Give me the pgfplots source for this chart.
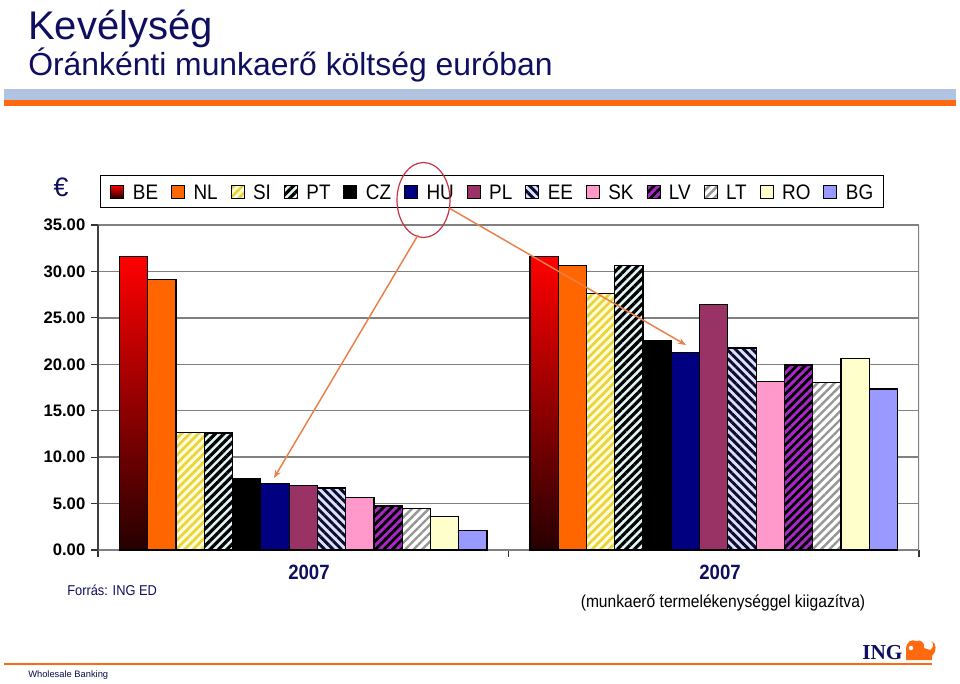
\documentclass[border=0pt]{standalone}
\usepackage{pgfplots}
\pgfplotsset{compat=1.18}
\usepackage{pgfplotstable}
\usepackage{fontspec}
\setmainfont{Liberation Sans}
\newfontfamily\ingserif{Liberation Serif}
\newfontfamily\narrowfont[FakeStretch=0.9]{Liberation Sans}
\usetikzlibrary{patterns.meta, arrows.meta}

\definecolor{navyt}{RGB}{15,15,95}
\definecolor{bandblue}{RGB}{176,196,226}
\definecolor{ingorange}{RGB}{255,106,16}
\definecolor{gridgray}{RGB}{128,128,128}
\definecolor{annot}{RGB}{232,128,72}
\definecolor{ellred}{RGB}{200,50,70}
\definecolor{cNL}{RGB}{255,102,0}
\definecolor{cSIbg}{RGB}{255,255,215}
\definecolor{cSI}{RGB}{235,210,60}
\definecolor{cPTbg}{RGB}{225,245,245}
\definecolor{cHU}{RGB}{0,0,128}
\definecolor{cPL}{RGB}{153,51,102}
\definecolor{cEEbg}{RGB}{220,225,245}
\definecolor{cEE}{RGB}{10,10,50}
\definecolor{cSK}{RGB}{255,153,204}
\definecolor{cLV}{RGB}{170,40,200}
\definecolor{cLT}{RGB}{150,150,150}
\definecolor{cRO}{RGB}{255,255,204}
\definecolor{cBG}{RGB}{153,153,255}

\pgfplotstableread{
x BE NL SI PT CZ HU PL EE SK LV LT RO BG
0 31.62 29.11 12.67 12.60 7.72 7.14 6.93 6.68 5.64 4.74 4.45 3.63 2.12
1 31.62 30.62 27.64 30.65 22.50 21.25 26.45 21.75 18.16 19.92 18.05 20.60 17.34
}\datatable

\begin{document}
\begin{tikzpicture}
\path[use as bounding box, fill=white] (0pt,0pt) rectangle (720pt,-512.25pt);
\begin{scope}[x=0.75pt,y=-0.75pt]
  \node[anchor=base west, inner sep=0pt, text=navyt, font=\fontsize{30}{30}\selectfont] at (28,39) {Kevélység};
  \node[anchor=base west, inner sep=0pt, text=navyt, font=\fontsize{23.9}{24}\selectfont] at (28,75) {Óránkénti munkaerő költség euróban};
  \fill[bandblue] (4,89) rectangle (956,100);
  \fill[ingorange] (4,100) rectangle (956,105.5);
  \node[text=navyt, inner sep=0pt, font=\fontsize{20}{20}\selectfont] at (61,187) {€};
\end{scope}

\begin{axis}[
  at={(73.5pt,-412.5pt)}, anchor=south west,
  width=615.75pt, height=243.75pt, scale only axis,
  xmin=-0.5, xmax=1.5, ymin=0, ymax=35,
  ybar=0pt, bar width=0.0689,
  axis x line*=bottom, axis y line*=left,
  axis line style={-, line width=1pt},
  x axis line style={draw=gridgray},
  y axis line style={draw=black!75},
  xtick={-0.5,0.5,1.5}, xticklabels={},
  ytick={0,5,...,35},
  ymajorgrids, grid style={draw=gridgray, line width=1pt},
  tick align=outside, major tick length=5pt,
  tick style={draw=black!80, line width=0.8pt},
  yticklabel style={font=\fontsize{12.5}{12.5}\bfseries\selectfont, text=black, xshift=-1pt},
  /pgf/number format/fixed, /pgf/number format/fixed zerofill,
  /pgf/number format/precision=2, /pgf/number format/assume math mode=true,
  every axis plot/.append style={draw=black, line width=0.9pt},
  legend columns=13,
  legend image code/.code={\draw[#1, line width=0.6pt] (0pt,-4.875pt) rectangle (9.75pt,4.875pt);},
  legend style={at={(0.0024,1.1538)}, anchor=north west, draw=black, line width=0.8pt,
    font=\narrowfont\fontsize{15.75}{16}\selectfont,
    nodes={inner sep=0pt, text height=11.3pt, text depth=0pt},
    inner xsep=7.5pt, inner ysep=6.5pt,
    /tikz/every odd column/.append style={column sep=6.5pt},
    /tikz/every even column/.append style={column sep=9.7pt}},
]
\addplot[top color=red, bottom color=black!85!red] table[x=x,y=BE] {\datatable};
\addplot[fill=cNL] table[x=x,y=NL] {\datatable};
\addplot[fill=cSIbg, postaction={pattern={Lines[angle=45,distance=4.5pt,line width=2pt]}, pattern color=cSI}] table[x=x,y=SI] {\datatable};
\addplot[fill=cPTbg, postaction={pattern={Lines[angle=45,distance=4.5pt,line width=2.4pt]}, pattern color=black}] table[x=x,y=PT] {\datatable};
\addplot[fill=black] table[x=x,y=CZ] {\datatable};
\addplot[fill=cHU] table[x=x,y=HU] {\datatable};
\addplot[fill=cPL] table[x=x,y=PL] {\datatable};
\addplot[fill=cEEbg, postaction={pattern={Lines[angle=-45,distance=4.5pt,line width=2.2pt]}, pattern color=cEE}] table[x=x,y=EE] {\datatable};
\addplot[fill=cSK] table[x=x,y=SK] {\datatable};
\addplot[fill=black, postaction={pattern={Lines[angle=45,distance=4.5pt,line width=2.2pt]}, pattern color=cLV}] table[x=x,y=LV] {\datatable};
\addplot[fill=white, postaction={pattern={Lines[angle=45,distance=4.5pt,line width=1.8pt]}, pattern color=cLT}] table[x=x,y=LT] {\datatable};
\addplot[fill=cRO] table[x=x,y=RO] {\datatable};
\addplot[fill=cBG] table[x=x,y=BG] {\datatable};
\legend{BE,NL,SI,PT,CZ,HU,PL,EE,SK,LV,LT,RO,BG}
\draw[gridgray, line width=1pt] (rel axis cs:1,0) -- (rel axis cs:1,1);
\end{axis}

\begin{scope}[x=0.75pt,y=-0.75pt]
  \draw[ellred, line width=0.9pt] (423.5,200) ellipse [x radius=26.5, y radius=37.5];
  \draw[annot, line width=1.1pt, -{Stealth[length=6pt,width=4.5pt]}] (418,235) -- (274,478);
  \draw[annot, line width=1.1pt, -{Stealth[length=6pt,width=4.5pt]}] (449,208) -- (686,345);
  \node[text=navyt, inner sep=0pt, font=\narrowfont\fontsize{15.5}{15.5}\bfseries\selectfont] at (309,572) {2007};
  \node[text=navyt, inner sep=0pt, font=\narrowfont\fontsize{15.5}{15.5}\bfseries\selectfont] at (720,572) {2007};
  \node[anchor=base west, inner sep=0pt, text=navyt, font=\narrowfont\fontsize{10.7}{11}\selectfont] at (67,595) {Forrás: ING ED};
  \node[anchor=base, inner sep=0pt, text=black, font=\narrowfont\fontsize{13}{13}\selectfont] at (723,607) {(munkaerő termelékenységgel kiigazítva)};
  \node[anchor=base west, inner sep=0pt, text=navyt, font=\ingserif\fontsize{16}{16}\bfseries\selectfont] at (862,659) {ING};
  \fill[ingorange] (906,660) -- (906,650) .. controls (906,641) and (912,639) .. (916,641) .. controls (921,639) and (925,643) .. (924,648) -- (930,650) .. controls (934,648) and (934,642) .. (931,641) .. controls (937,642) and (937,652) .. (932,656) -- (932,660) -- cycle;
  \fill[white] (911,648) circle (2.2);
  \draw[ingorange, line width=2.2pt] (4,664) -- (932,664);
  \node[anchor=base west, inner sep=0pt, text=navyt!80!black, font=\fontsize{7}{7}\selectfont] at (28,677) {Wholesale Banking};
\end{scope}
\end{tikzpicture}
\end{document}
